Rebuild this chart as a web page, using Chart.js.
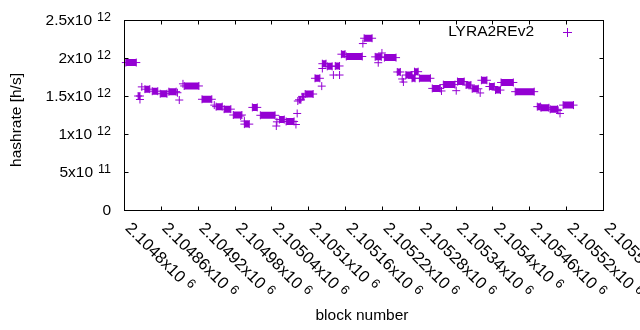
<!DOCTYPE html>
<html>
<head>
<meta charset="utf-8">
<script src="https://cdn.jsdelivr.net/npm/chart.js@4/dist/chart.umd.min.js"></script>
<style>
    html, body { margin: 0; padding: 0; background: #fff; }
    canvas { display: block; }
</style>
</head>
<body>
<canvas id="graph" width="640" height="330"></canvas>
<script>
const seriesName = 'LYRA2REv2'

// stretches where the hashrate stays flat: first block, last block, value
const runFrom = [
    2104803, 2104823, 2104834, 2104846, 2104859, 2104873, 2104898, 2104927,
    2104950, 2104963, 2104978, 2104996, 2105009, 2105022, 2105053, 2105064,
    2105085, 2105090, 2105095, 2105111, 2105123, 2105131, 2105144, 2105154,
    2105162, 2105191, 2105209, 2105224, 2105245, 2105259, 2105269, 2105273,
    2105281, 2105302, 2105320, 2105343, 2105357, 2105367, 2105382, 2105395,
    2105405, 2105414, 2105437, 2105473, 2105479, 2105494, 2105515,
]
const runTo = [
    2104820, 2104826, 2104842, 2104855, 2104870, 2104885, 2104922, 2104943,
    2104960, 2104974, 2104992, 2105004, 2105017, 2105046, 2105061, 2105077,
    2105088, 2105093, 2105108, 2105119, 2105129, 2105139, 2105151, 2105160,
    2105188, 2105204, 2105219, 2105243, 2105250, 2105269, 2105274, 2105279,
    2105299, 2105315, 2105339, 2105354, 2105365, 2105377, 2105391, 2105403,
    2105413, 2105434, 2105468, 2105478, 2105492, 2105506, 2105532,
]
const runRate = [
    1.94e12, 1.50e12, 1.59e12, 1.563e12, 1.53e12, 1.557e12, 1.632e12, 1.457e12,
    1.36e12, 1.327e12, 1.25e12, 1.13e12, 1.35e12, 1.246e12, 1.19e12, 1.165e12,
    1.45e12, 1.49e12, 1.526e12, 1.733e12, 1.925e12, 1.89e12, 1.895e12, 2.05e12,
    2.02e12, 2.26e12, 2.015e12, 2.005e12, 1.816e12, 1.776e12, 1.733e12, 1.82e12,
    1.733e12, 1.60e12, 1.65e12, 1.69e12, 1.645e12, 1.595e12, 1.707e12, 1.625e12,
    1.578e12, 1.678e12, 1.557e12, 1.36e12, 1.345e12, 1.325e12, 1.38e12,
]

// lone blocks
const singleBlock = [
    2104826, 2104829, 2104887, 2104890, 2104896, 2104947, 2104990, 2104996,
    2105048, 2105049, 2105080, 2105082, 2105083, 2105122, 2105123, 2105141,
    2105151, 2105189, 2105214, 2105220, 2105253, 2105255, 2105317, 2105341,
    2105380, 2105507, 2105510,
]
const singleRate = [
    1.454e12, 1.62e12, 1.543e12, 1.447e12, 1.66e12, 1.38e12, 1.237e12, 1.17e12,
    1.105e12, 1.16e12, 1.125e12, 1.27e12, 1.434e12, 1.63e12, 1.862e12, 1.776e12,
    1.776e12, 2.19e12, 1.938e12, 2.066e12, 1.724e12, 1.684e12, 1.566e12, 1.57e12,
    1.54e12, 1.31e12, 1.27e12,
]

const xTicks = [
    2104800, 2104860, 2104920, 2104980, 2105040, 2105100, 2105160,
    2105220, 2105280, 2105340, 2105400, 2105460, 2105520, 2105580,
]
const xTickText = [
    '2.1048x10', '2.10486x10', '2.10492x10', '2.10498x10', '2.10504x10', '2.1051x10', '2.10516x10',
    '2.10522x10', '2.10528x10', '2.10534x10', '2.1054x10', '2.10546x10', '2.10552x10', '2.10558x10',
]
const xTickExp = '6'
const yTicks = [0, 5e11, 1e12, 1.5e12, 2e12, 2.5e12]
const yTickText = ['0', '5x10', '1x10', '1.5x10', '2x10', '2.5x10']
const yTickExp = ['', '11', '12', '12', '12', '12']

const purple = '#9400d3'
const FONT = '15.5px "Liberation Sans", Arial, sans-serif'
const SUP = '12.5px "Liberation Sans", Arial, sans-serif'
const XFONT = '16.5px "Liberation Sans", Arial, sans-serif'
const XSUP = '13px "Liberation Sans", Arial, sans-serif'

// thick flat bars for the runs, broken between runs
const runLine = []
const marks = []
runFrom.forEach((from, i) => {
    runLine.push({ x: from, y: runRate[i] })
    runLine.push({ x: runTo[i], y: runRate[i] })
    runLine.push({ x: runTo[i], y: null })
    marks.push({ x: from, y: runRate[i] })
    marks.push({ x: runTo[i], y: runRate[i] })
})
singleBlock.forEach((b, i) => marks.push({ x: b, y: singleRate[i] }))

// text with a raised exponent, gnuplot style
function supText(ctx, text, exp, x, y, align, font, sup) {
    ctx.font = font
    const w = ctx.measureText(text).width
    ctx.font = sup
    const ew = exp ? ctx.measureText(exp).width + 5 : 0
    const x0 = align === 'right' ? x - w - ew : x
    ctx.textAlign = 'left'
    ctx.textBaseline = 'alphabetic'
    ctx.font = font
    ctx.fillText(text, x0, y + 5)
    if (exp) {
        ctx.font = sup
        ctx.fillText(exp, x0 + w + 5, y + 0.5)
    }
}

const frame = {
    id: 'frame',
    afterDraw(chart) {
        const ctx = chart.ctx
        const xs = chart.scales.x
        const ys = chart.scales.y
        const l = Math.round(chart.chartArea.left) + 0.5
        const r = Math.round(chart.chartArea.right) + 0.5
        const t = Math.round(chart.chartArea.top) + 0.5
        const b = Math.round(chart.chartArea.bottom) + 0.5
        ctx.save()
        ctx.strokeStyle = '#000'
        ctx.lineWidth = 1
        ctx.strokeRect(l, t, r - l, b - t)

        ctx.beginPath()
        xTicks.forEach(v => {
            const px = Math.round(xs.getPixelForValue(v)) + 0.5
            ctx.moveTo(px, b); ctx.lineTo(px, b - 4)
            ctx.moveTo(px, t); ctx.lineTo(px, t + 4)
        })
        yTicks.forEach(v => {
            const py = Math.round(ys.getPixelForValue(v)) + 0.5
            ctx.moveTo(l, py); ctx.lineTo(l + 4, py)
            ctx.moveTo(r, py); ctx.lineTo(r - 4, py)
        })
        ctx.stroke()

        ctx.fillStyle = '#000'
        yTicks.forEach((v, i) => {
            supText(ctx, yTickText[i], yTickExp[i], 111, ys.getPixelForValue(v), 'right', FONT, SUP)
        })
        xTicks.forEach((v, i) => {
            ctx.save()
            ctx.translate(xs.getPixelForValue(v) + 4, b + 15)
            ctx.rotate(Math.PI / 4)
            supText(ctx, xTickText[i], xTickExp, 0, 0, 'left', XFONT, XSUP)
            ctx.restore()
        })

        ctx.font = FONT
        ctx.textAlign = 'center'
        ctx.textBaseline = 'middle'
        ctx.fillText('block number', 362, 316)
        ctx.save()
        ctx.translate(17, 120)
        ctx.rotate(-Math.PI / 2)
        ctx.fillText('hashrate [h/s]', 0, 0)
        ctx.restore()

        // key
        ctx.textAlign = 'right'
        ctx.fillText(seriesName, 534, 32)
        ctx.strokeStyle = purple
        ctx.beginPath()
        ctx.moveTo(563, 32.5); ctx.lineTo(572, 32.5)
        ctx.moveTo(567.5, 28); ctx.lineTo(567.5, 37)
        ctx.stroke()
        ctx.restore()
    },
}

new Chart(document.getElementById('graph').getContext('2d'), {
    type: 'scatter',
    data: {
        datasets: [
            {
                type: 'line',
                label: seriesName,
                data: runLine,
                borderColor: purple,
                borderWidth: 7,
                pointRadius: 0,
                spanGaps: false,
                clip: false,
            },
            {
                label: seriesName,
                data: marks,
                pointStyle: 'cross',
                pointRadius: 4,
                borderColor: purple,
                backgroundColor: purple,
                borderWidth: 1,
                clip: false,
            },
        ],
    },
    plugins: [frame],
    options: {
        responsive: false,
        animation: false,
        layout: {
            autoPadding: false,
            padding: { left: 124, right: 37, top: 20, bottom: 120 },
        },
        plugins: {
            legend: { display: false },
            tooltip: { enabled: false },
        },
        scales: {
            x: { type: 'linear', display: false, min: 2104800, max: 2105580 },
            y: { display: false, min: 0, max: 2.5e12 },
        },
    },
})
</script>
</body>
</html>
